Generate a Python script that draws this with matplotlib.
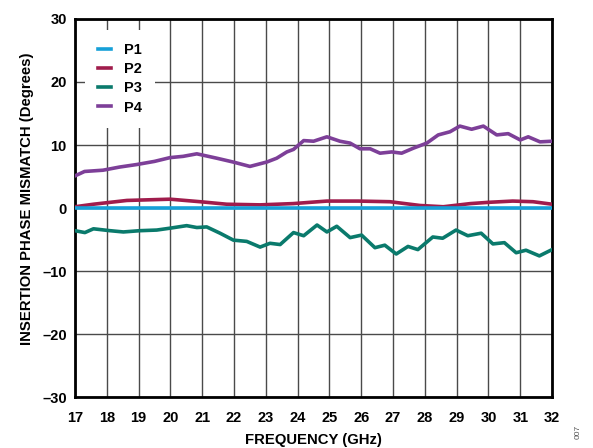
import matplotlib
matplotlib.use("Agg")
import matplotlib.pyplot as plt

plt.rcParams['font.family'] = ['Liberation Sans', 'DejaVu Sans']
plt.rcParams['font.weight'] = 'bold'

# frequency points (GHz) for each trace
freq_p1 = [17, 32]
p1 = [0.0, 0.0]

freq_p2 = [17, 17.58, 18.63, 19.99, 20.93, 21.77, 22.82, 23.86, 24.92, 25.9,
           26.9, 27.85, 28.58, 29.43, 30.0, 30.76, 31.4, 32]
p2 = [0.2, 0.6, 1.2, 1.4, 1.0, 0.6, 0.5, 0.7, 1.1, 1.1,
      1.0, 0.4, 0.2, 0.7, 0.9, 1.1, 1.0, 0.6]

freq_p3 = [17, 17.31, 17.58, 18.1, 18.52, 19.04, 19.57, 19.99, 20.51, 20.83,
           21.14, 21.56, 21.98, 22.4, 22.82, 23.13, 23.45, 23.87, 24.19, 24.61,
           24.92, 25.23, 25.65, 26.01, 26.43, 26.74, 27.1, 27.47, 27.78, 28.25,
           28.56, 28.98, 29.35, 29.77, 30.14, 30.5, 30.87, 31.18, 31.6, 32]
p3 = [-3.6, -3.9, -3.3, -3.6, -3.8, -3.6, -3.5, -3.2, -2.8, -3.1,
      -3.0, -4.0, -5.1, -5.3, -6.2, -5.6, -5.8, -3.9, -4.4, -2.7,
      -3.8, -2.9, -4.7, -4.3, -6.3, -5.9, -7.3, -6.1, -6.6, -4.6,
      -4.8, -3.5, -4.4, -4.0, -5.7, -5.5, -7.1, -6.7, -7.6, -6.6]

freq_p4 = [17, 17.3, 17.88, 18.4, 18.94, 19.5, 19.99, 20.4, 20.83, 21.46,
           21.97, 22.5, 23.03, 23.34, 23.66, 23.87, 24.19, 24.5, 24.92, 25.33,
           25.65, 25.96, 26.28, 26.59, 26.96, 27.27, 27.64, 28.06, 28.42, 28.79,
           29.1, 29.47, 29.84, 30.26, 30.62, 31.0, 31.25, 31.62, 32]
p4 = [5.1, 5.8, 6.0, 6.5, 6.9, 7.4, 8.0, 8.2, 8.6, 7.9,
      7.3, 6.6, 7.3, 7.9, 8.9, 9.3, 10.7, 10.6, 11.3, 10.6,
      10.3, 9.4, 9.4, 8.7, 8.9, 8.7, 9.5, 10.3, 11.6, 12.1,
      13.0, 12.5, 13.0, 11.6, 11.8, 10.8, 11.3, 10.5, 10.6]

x_ticks = list(range(17, 33))
y_ticks = [-30, -20, -10, 0, 10, 20, 30]
y_labels = ['\u201330', '\u201320', '\u201310', '0', '10', '20', '30']

fig = plt.figure(figsize=(5.93, 4.48), dpi=100)
ax = fig.add_axes([0.1265, 0.1138, 0.8045, 0.8438])

lw = 2.6
ax.plot(freq_p1, p1, color='#16a0d8', lw=lw, label='P1', zorder=4)
ax.plot(freq_p2, p2, color='#a01c4c', lw=lw, label='P2', zorder=3)
ax.plot(freq_p3, p3, color='#0a7a6c', lw=lw, label='P3', zorder=3)
ax.plot(freq_p4, p4, color='#7d3f98', lw=lw, label='P4', zorder=3)

ax.set_xlim(17, 32)
ax.set_ylim(-30, 30)
ax.set_xticks(x_ticks)
ax.set_yticks(y_ticks)
ax.set_yticklabels(y_labels)
ax.tick_params(length=0, labelsize=10.5)
ax.tick_params(axis='x', pad=10)
ax.tick_params(axis='y', pad=6)
for lab in ax.get_xticklabels() + ax.get_yticklabels():
    lab.set_fontweight('bold')

ax.grid(True, color='#4a4a4a', lw=1.0)
ax.set_axisbelow(True)
for s in ax.spines.values():
    s.set_linewidth(2.0)
    s.set_color('black')

ax.set_xlabel('FREQUENCY (GHz)', fontsize=10.7, fontweight='bold', labelpad=6)
ax.set_ylabel('INSERTION PHASE MISMATCH (Degrees)', fontsize=10.7,
              fontweight='bold')
ax.yaxis.set_label_coords(-0.086, 0.524)

leg = ax.legend(loc='upper left', frameon=True, fancybox=False,
                edgecolor='white', framealpha=1, handlelength=0.9,
                handletextpad=0.9, labelspacing=0.35, borderpad=0.9,
                bbox_to_anchor=(0.005, 0.99), prop={'weight': 'bold', 'size': 10.5})
leg.get_frame().set_linewidth(0)

fig.text(0.975, 0.02, '007', rotation=90, fontsize=6, color='#555555',
         fontweight='normal', ha='center', va='bottom')

fig.savefig('out.png', dpi=100)
